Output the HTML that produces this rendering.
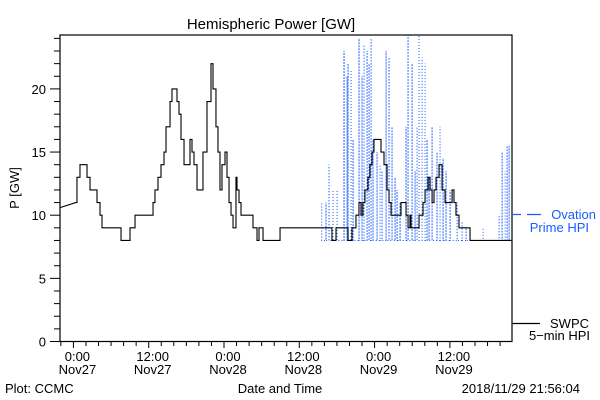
<!DOCTYPE html>
<html><head><meta charset="utf-8"><style>
body{margin:0;background:#fff;}
svg{display:block;font-family:"Liberation Sans",sans-serif;}
</style></head><body>
<svg id="chart" width="600" height="400" viewBox="0 0 600 400">
<rect width="600" height="400" fill="#fff"/>
<text x="271" y="29" font-size="15" text-anchor="middle">Hemispheric Power [GW]</text>
<g id="blue"></g>
<g id="black"></g>
<rect x="60" y="35" width="452" height="306.5" fill="none" stroke="#000" stroke-width="1.2"/>
<g id="axes"></g>
<text transform="translate(19,188) rotate(-90)" font-size="13" text-anchor="middle">P [GW]</text>
<text x="280" y="393" font-size="13" text-anchor="middle">Date and Time</text>
<text x="5" y="393" font-size="13">Plot: CCMC</text>
<text x="580" y="393" font-size="13" text-anchor="end">2018/11/29 21:56:04</text>
<g>
<line x1="512" y1="214.5" x2="541" y2="214.5" stroke="#1a5cff" stroke-width="1.2" stroke-dasharray="9,6,14"/>
<text x="596" y="219" font-size="13" fill="#1a5cff" text-anchor="end">Ovation</text>
<text x="589" y="232" font-size="13" fill="#1a5cff" text-anchor="end">Prime HPI</text>
</g>
<g>
<line x1="512" y1="323.5" x2="540" y2="323.5" stroke="#000" stroke-width="1.2"/>
<text x="589" y="328" font-size="13" text-anchor="end">SWPC</text>
<text x="590" y="340" font-size="13" text-anchor="end">5−min HPI</text>
</g>
</svg>
<script>
const blackHours=[-2.14,0.37,0.57,1.05,2.17,2.65,3.76,4.24,4.56,7.59,9.02,9.82,12.69,13.0,13.48,13.96,14.44,14.76,15.4,15.71,16.51,16.83,17.15,17.63,18.58,18.9,19.22,19.7,20.65,21.29,21.93,22.25,22.72,23.04,23.36,23.68,24.16,24.48,24.8,25.12,25.44,25.91,26.07,26.39,26.71,28.62,29.26,29.58,30.22,32.93,41.2,41.85,43.76,44.39,45.03,45.51,45.83,46.14,46.46,46.94,47.26,47.58,47.9,49.02,49.5,49.98,50.3,50.62,52.21,53.01,53.33,53.64,53.8,55.08,55.72,56.04,56.52,56.84,57.16,57.47,57.79,58.27,58.75,59.23,60.35,60.65,60.97,61.45,63.21,69.9];
const blackValues=[10.6,11,13,14,13,12,11,10,9,8,9,10,11,12,13,14,15,17,19,20,19,18,16,14,16,15,14,12,15,19,22,20,17,15,12,14,15,13,11,10,9,13,12,11,10,9,8,9,8,9,8,9,8,9,10,11,10,11,12,13,14,15,16,15,14,12,11,10,11,10,9,10,9,10,11,12,13,12,11,12,13,14,12,11,12,11,10,9,8,8];
const blueHours=[39.57,40.26,40.74,41.38,42.02,43.13,43.61,43.77,44.25,44.57,45.52,46.0,46.32,46.8,47.12,47.44,47.75,48.39,48.87,49.19,49.83,50.3,50.78,51.26,51.58,52.06,53.01,53.33,53.97,54.45,54.77,55.08,55.56,56.04,56.36,56.68,57.16,57.95,58.43,58.91,59.39,60.03,61.15,61.94,62.58,65.29,67.84,68.32,68.8,69.12,69.44];
const blueValues=[11,11,14,12,12,23,21,22,21.5,16,24,21,23.5,23,22,24,16,15,14,13.5,23,22.5,17,13,12,11,17,24.3,22,13.5,17,24.3,22.5,22,16,13,17,15,17,14.5,13.5,12,11,9.5,9,9,10,15,13.5,15.5,15.5];
const blueBase=8;
const yTicks=[0,5,10,15,20];
const xTickHours=[0,12,24,36,48,60];
const xTickLabels=[["0:00","Nov27"],["12:00","Nov27"],["0:00","Nov28"],["12:00","Nov28"],["0:00","Nov29"],["12:00","Nov29"]];
const NS="http://www.w3.org/2000/svg";
const X=h=>73.4+h*6.275;
const Y=v=>Math.max(35,341.5-v*12.63);
function mk(t,a,p){const e=document.createElementNS(NS,t);for(const k in a)e.setAttribute(k,a[k]);p.appendChild(e);return e;}
let d=`M${X(blackHours[0])},${Y(blackValues[0])} L${X(blackHours[1])},${Y(blackValues[1])}`;
for(let i=2;i<blackHours.length;i++){d+=` H${X(blackHours[i])} V${Y(blackValues[i])}`;}
const bl=mk('path',{d:d,fill:'none',stroke:'#000','stroke-width':1.1},document.getElementById('black'));


const bg=document.getElementById('blue');
let bd=`M${X(blueHours[0])},${Y(blueBase)}`;
for(let i=0;i<blueHours.length;i++){const x=X(blueHours[i]);bd+=` H${x} V${Y(blueValues[i])} V${Y(blueBase)}`;}
bd+=` H${X(69.9)}`;
const bp=mk('path',{d:bd,fill:'none',stroke:'#1a5cff','stroke-width':1,'stroke-dasharray':'1,2'},bg);


const ax=document.getElementById('axes');
for(let v=0;v<=24;v++){const y=Y(v);const major=v%5===0;
 const t=mk('line',{x1:major?50:54,x2:60,y1:y,y2:y,stroke:'#000','stroke-width':1},ax);
 
 }
yTicks.forEach(v=>{const t=mk('text',{x:46,y:Y(v)+5,'font-size':13,'text-anchor':'end'},ax);t.textContent=String(v);
 
 });
for(let h=-2;h<=69;h+=2){const x=X(h);const major=h%12===0;
 const t=mk('line',{x1:x,x2:x,y1:341.5,y2:major?348:346,stroke:'#000','stroke-width':1},ax);
 
 }
xTickHours.forEach((h,i)=>{const x=X(h)+4;
 const a=mk('text',{x:x,y:361,'font-size':13,'text-anchor':'middle'},ax);a.textContent=xTickLabels[i][0];
 
 
 const b=mk('text',{x:x,y:374,'font-size':13,'text-anchor':'middle'},ax);b.textContent=xTickLabels[i][1];
 
 });
</script>
</body></html>
